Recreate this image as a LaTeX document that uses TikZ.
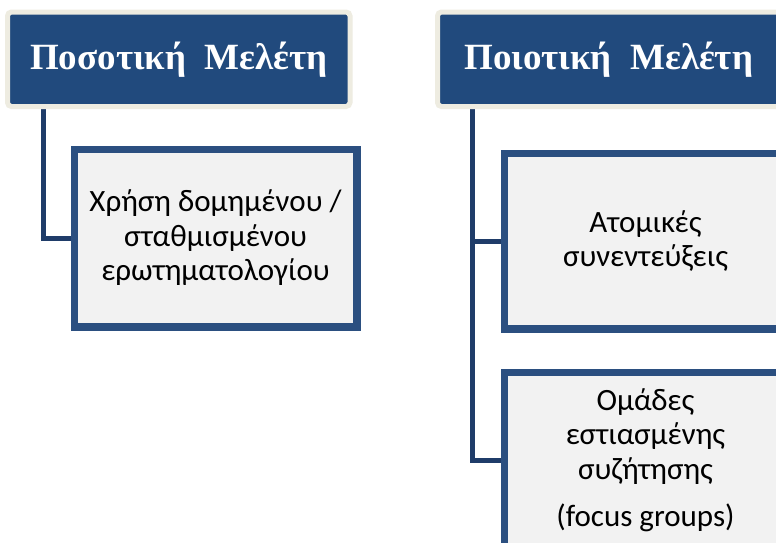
\documentclass[tikz,border=0pt]{standalone}
\usepackage{fontspec}
\setmainfont{Liberation Serif}
\newfontfamily\boxfont{Carlito}
\definecolor{hdrblue}{HTML}{214A7D}
\definecolor{cream}{HTML}{EEECE1}
\definecolor{connblue}{HTML}{1F3C69}
\definecolor{boxline}{HTML}{2B4F80}
\definecolor{boxfill}{HTML}{F2F2F2}
\tikzset{
  header/.style={draw=cream, line width=5pt, fill=hdrblue, rounded corners=4pt,
    minimum width=342.5pt, minimum height=94.5pt, inner sep=0pt, text=white,
    font=\fontsize{37}{40}\selectfont\bfseries},
  itembox/.style={draw=boxline, line width=5pt, fill=boxfill, minimum width=280pt,
    inner sep=0pt, align=center, text=black, font=\boxfont\fontsize{31}{34.5}\selectfont},
  conn/.style={draw=connblue, line width=5pt}
}
\begin{document}
\begin{tikzpicture}[x=1pt,y=-1pt]
\useasboundingbox (0,0) rectangle (776,542);
\clip (0,0) rectangle (776,542);
\fill[white] (0,0) rectangle (776,542);
\coordinate (c1top) at (43,100);
\coordinate (c2top) at (472,100);
\node[itembox, minimum height=175pt] (b1) at (215.5,238) {Χρήση δομημένου /\\σταθμισμένου\\ερωτηματολογίου};
\node[itembox, minimum height=173pt] (b2) at (645.5,241) {Ατομικές\\συνεντεύξεις};
\node[itembox, minimum height=173pt] (b3) at (645.5,460) {Ομάδες\\εστιασμένης\\συζήτησης\\[13pt](focus groups)};
\draw[conn] (c1top) |- (b1.west);
\draw[conn] (c2top) |- (b2.west);
\draw[conn] (c2top) |- (b3.west);
\node[header] (h1) at (178.75,59.25) {Ποσοτική\ \ Μελέτη};
\node[header] (h2) at (608.75,59.25) {Ποιοτική\ \ Μελέτη};
\draw[draw=boxline, line width=5pt] (b1.south west) rectangle (b1.north east);
\draw[draw=boxline, line width=5pt] (b2.south west) rectangle (b2.north east);
\draw[draw=boxline, line width=5pt] (b3.south west) rectangle (b3.north east);
\end{tikzpicture}
\end{document}
